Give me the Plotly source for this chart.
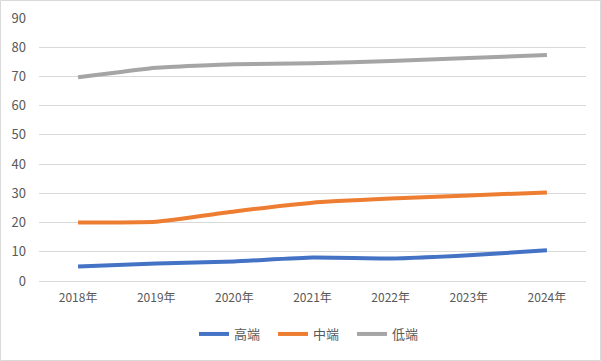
import plotly.graph_objects as go

years = ["2018年", "2019年", "2020年", "2021年", "2022年", "2023年", "2024年"]
high = [5.0, 6.0, 6.7, 8.0, 7.7, 8.8, 10.5]
mid = [20.0, 20.3, 23.8, 26.8, 28.2, 29.3, 30.3]
low = [69.7, 73.0, 74.2, 74.5, 75.3, 76.3, 77.3]

names = ["高端", "中端", "低端"]
colors = ["#4472C4", "#ED7D31", "#A5A5A5"]

fig = go.Figure()
for name, vals, c in zip(names, [high, mid, low], colors):
    fig.add_trace(go.Scatter(x=years, y=vals, name=name, mode="lines",
                             line=dict(color=c, width=4, shape="spline", smoothing=0.4)))

W, H = 601, 361
ml, mr, mt, mb = 39, 15, 18, 80
pw, ph = W - ml - mr, H - mt - mb

fig.update_layout(
    width=W, height=H,
    margin=dict(l=ml, r=mr, t=mt, b=mb, autoexpand=False),
    paper_bgcolor="white", plot_bgcolor="white",
    font=dict(family="Noto Sans CJK SC, Noto Sans, sans-serif", size=12, color="#595959"),
    showlegend=True,
    legend=dict(orientation="h", x=0.5, xanchor="center", y=-53 / ph, yanchor="middle",
                font=dict(size=13, color="#595959"), itemwidth=30, entrywidth=34),
    xaxis=dict(showgrid=False, showline=False, ticks="", range=[-0.5, 6.5], automargin=False,
               tickfont=dict(size=12, color="#595959"), ticklabelstandoff=8),
    yaxis=dict(range=[0, 90], dtick=10, showgrid=True, gridcolor="#D9D9D9", gridwidth=1,
               zeroline=True, zerolinecolor="#D9D9D9", zerolinewidth=1, automargin=False,
               tickfont=dict(size=13, color="#595959"), ticks="", ticklabelstandoff=12),
    shapes=[dict(type="rect", xref="paper", yref="paper",
                 x0=(0.5 - ml) / pw, x1=(W - 0.5 - ml) / pw,
                 y0=(-(mb) + 0.5) / ph, y1=(ph + mt - 0.5) / ph,
                 line=dict(color="#D9D9D9", width=1), layer="below")],
)

fig.write_html("out.html", config={"displayModeBar": False},
               post_script="document.body.style.margin='0';document.body.style.overflow='hidden';")
